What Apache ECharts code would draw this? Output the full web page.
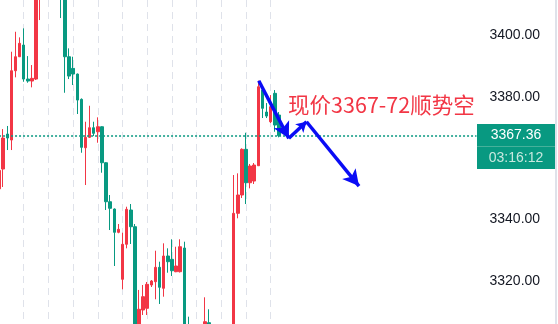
<!DOCTYPE html>
<html>
<head>
<meta charset="utf-8">
<script src="https://cdn.jsdelivr.net/npm/echarts@6/dist/echarts.min.js"></script>
<style>
html,body{margin:0;padding:0;background:#ffffff;}
#chart{width:558px;height:324px;}
</style>
</head>
<body>
<div id="chart"></div>
<script>
// time slots (bars + empty future area)
const categories = Array.from({length: 117}, (_, i) => String(i));

// candles: [open, close, low, high]
const candles = [
  [3350.0, 3356.0, 3348.6, 3356.8],
  [3356.46, 3366.57, 3350.59, 3369.50],
  [3367.87, 3366.57, 3362.65, 3370.50],
  [3365.92, 3388.52, 3362.65, 3394.72],
  [3388.52, 3393.09, 3386.37, 3401.24],
  [3393.09, 3397.46, 3392.99, 3399.41],
  [3396.90, 3385.81, 3384.93, 3402.35],
  [3385.81, 3385.16, 3384.61, 3393.31],
  [3385.16, 3386.04, 3383.11, 3390.38],
  [3385.81, 3415.50, 3385.50, 3418.00],
  [3414.00, 3422.00, 3405.06, 3425.00],
  [3425.00, 3420.00, 3416.00, 3428.00],
  [3420.00, 3428.00, 3418.00, 3432.00],
  [3428.00, 3423.00, 3420.00, 3431.00],
  [3423.00, 3430.00, 3421.00, 3433.00],
  [3430.00, 3418.00, 3405.71, 3432.00],
  [3418.00, 3393.09, 3381.34, 3419.00],
  [3393.09, 3386.79, 3385.81, 3395.83],
  [3389.30, 3387.44, 3383.86, 3393.09],
  [3387.44, 3378.96, 3374.40, 3387.60],
  [3379.19, 3363.53, 3361.77, 3379.50],
  [3363.40, 3366.80, 3351.24, 3371.89],
  [3366.80, 3369.93, 3366.57, 3377.10],
  [3369.93, 3368.10, 3367.22, 3371.89],
  [3368.62, 3370.25, 3365.04, 3373.32],
  [3370.25, 3358.51, 3355.25, 3370.40],
  [3358.51, 3345.79, 3343.09, 3358.70],
  [3345.79, 3343.64, 3336.56, 3347.98],
  [3343.41, 3335.81, 3324.82, 3343.60],
  [3335.81, 3336.79, 3335.50, 3338.52],
  [3320.48, 3331.90, 3317.22, 3335.68],
  [3331.90, 3343.31, 3330.59, 3344.16],
  [3343.09, 3337.64, 3332.00, 3345.04],
  [3337.64, 3303.50, 3302.50, 3338.52],
  [3303.50, 3310.70, 3302.00, 3317.01],
  [3310.47, 3314.81, 3308.84, 3318.62],
  [3311.02, 3318.85, 3308.84, 3319.60],
  [3318.62, 3319.93, 3317.97, 3320.25],
  [3319.70, 3324.39, 3313.96, 3329.81],
  [3324.39, 3317.87, 3312.43, 3326.22],
  [3317.55, 3328.08, 3314.81, 3332.22],
  [3328.08, 3326.22, 3322.63, 3330.59],
  [3327.00, 3323.28, 3321.56, 3333.53],
  [3322.96, 3324.82, 3322.80, 3331.11],
  [3322.96, 3331.11, 3322.70, 3333.53],
  [3330.69, 3302.00, 3300.50, 3332.75],
  [3304.00, 3298.00, 3296.00, 3308.29],
  [3298.00, 3301.00, 3294.00, 3303.00],
  [3301.00, 3297.00, 3295.00, 3304.00],
  [3297.00, 3302.00, 3295.00, 3305.00],
  [3302.00, 3306.65, 3300.00, 3314.61],
  [3306.33, 3301.00, 3298.00, 3310.70],
  [3301.00, 3296.00, 3294.00, 3303.00],
  [3296.00, 3299.00, 3294.00, 3302.00],
  [3299.00, 3295.00, 3293.00, 3301.00],
  [3295.00, 3300.00, 3293.00, 3303.00],
  [3300.00, 3304.00, 3298.00, 3305.50],
  [3304.00, 3342.01, 3302.00, 3354.50],
  [3342.01, 3347.98, 3340.38, 3355.05],
  [3347.98, 3362.88, 3347.00, 3363.21],
  [3362.88, 3351.99, 3345.04, 3368.30],
  [3351.99, 3357.44, 3350.16, 3358.10],
  [3352.54, 3357.76, 3351.57, 3358.42],
  [3357.53, 3383.30, 3357.44, 3385.30],
  [3382.22, 3376.26, 3373.09, 3383.53],
  [3375.05, 3373.74, 3373.09, 3377.98],
  [3371.89, 3376.78, 3371.46, 3380.59],
  [3381.15, 3370.81, 3368.62, 3382.22],
  [3374.07, 3367.36, 3366.80, 3375.05]
];

// current price tag
const lastPrice = 3367.36;
const lastPriceText = '3367.36';
const countdownText = '03:16:12';

// y-axis range and tick labels
const yMin = 3305.9, yMax = 3411.6;
const yTicks = [3320, 3340, 3360, 3380, 3400];

// hand-drawn arrow path (slot index, price)
const arrowPath = [[63.1, 3385.26], [70.4, 3366.47], [74.7, 3371.88], [87.45, 3350.91]];

// annotation
const noteText = '现价3367-72顺势空';
const notePos = [70.1, 3377.3];

const UP = '#f23645', DOWN = '#089981';

const chart = echarts.init(document.getElementById('chart'), null, {renderer: 'canvas'});

const arrowSegments = [];
for (let i = 0; i < arrowPath.length - 1; i++) {
  arrowSegments.push([
    {coord: arrowPath[i]},
    {coord: arrowPath[i + 1], symbolSize: i === 1 ? [9, 10] : [13, 16]}
  ]);
}

chart.setOption({
  animation: false,
  backgroundColor: '#ffffff',
  grid: {left: -0.95, right: 81.5, top: 0, bottom: 0, containLabel: false, outerBoundsMode: 'none'},
  xAxis: [{
    type: 'category',
    data: categories,
    boundaryGap: false,
    axisLine: {show: false},
    axisTick: {show: false},
    axisLabel: {show: false},
    splitLine: {
      show: true,
      interval: function (idx) { return idx % 6 === 0 && idx <= 66; },
      lineStyle: {color: '#dfe2ea', width: 1, type: [7, 5]}
    }
  }, {
    type: 'value',
    min: 0,
    max: categories.length - 1,
    show: false
  }],
  yAxis: {
    type: 'value',
    position: 'right',
    min: yMin,
    max: yMax,
    axisLine: {show: true, lineStyle: {color: '#dfe2ea', width: 1}},
    axisTick: {show: false},
    splitLine: {show: false},
    axisLabel: {
      show: true,
      customValues: yTicks,
      margin: 13,
      color: '#131722',
      fontSize: 14,
      fontFamily: 'Liberation Sans, Arial, sans-serif',
      formatter: function (v) { return Number(v).toFixed(2); }
    }
  },
  series: [{
    type: 'candlestick',
    data: candles,
    xAxisIndex: 0,
    yAxisIndex: 0,
    barWidth: 3,
    clip: true,
    itemStyle: {color: UP, color0: DOWN, borderColor: UP, borderColor0: DOWN, borderWidth: 1},
    markLine: {
      silent: true,
      symbol: 'none',
      label: {show: false},
      lineStyle: {color: DOWN, type: [2, 2], width: 1.6},
      data: [{yAxis: lastPrice}]
    }
  }, {
    type: 'line',
    xAxisIndex: 1,
    yAxisIndex: 0,
    data: [[0, yMin]],
    showSymbol: false,
    lineStyle: {opacity: 0},
    z: 5,
    markLine: {
      silent: true,
      symbol: ['none', 'arrow'],
      symbolSize: [13, 16],
      label: {show: false},
      lineStyle: {color: '#0a0cf5', width: 3.5, type: 'solid'},
      data: arrowSegments
    },
    markPoint: {
      silent: true,
      data: [{
        coord: notePos,
        symbol: 'rect',
        symbolSize: 1,
        itemStyle: {color: 'rgba(0,0,0,0)'},
        label: {
          show: true,
          position: 'right',
          distance: 0,
          formatter: noteText,
          color: '#f23645',
          fontSize: 21.5,
          fontFamily: 'Noto Sans CJK SC'
        }
      }, {
        coord: [categories.length - 1, lastPrice],
        symbol: 'rect',
        symbolSize: 1,
        itemStyle: {color: 'rgba(0,0,0,0)'},
        label: {
          show: true,
          position: [1, -11],
          formatter: '{a|' + lastPriceText + '}\n{s| }\n{b|' + countdownText + '}',
          rich: {
            a: {width: 78, height: 22, lineHeight: 22, align: 'center', color: '#ffffff', fontSize: 14,
                fontFamily: 'Liberation Sans, Arial, sans-serif', backgroundColor: DOWN},
            s: {width: 78, height: 1, lineHeight: 1, fontSize: 1, backgroundColor: '#46b19b'},
            b: {width: 78, height: 22, lineHeight: 22, align: 'center', color: '#c8e8df', fontSize: 14,
                fontFamily: 'Liberation Sans, Arial, sans-serif', backgroundColor: DOWN}
          }
        }
      }]
    }
  }],
  graphic: [{
    type: 'rect',
    shape: {x: 555, y: 0, width: 2, height: 324},
    style: {fill: '#dfe2ea'},
    silent: true
  }]
});
</script>
</body>
</html>
